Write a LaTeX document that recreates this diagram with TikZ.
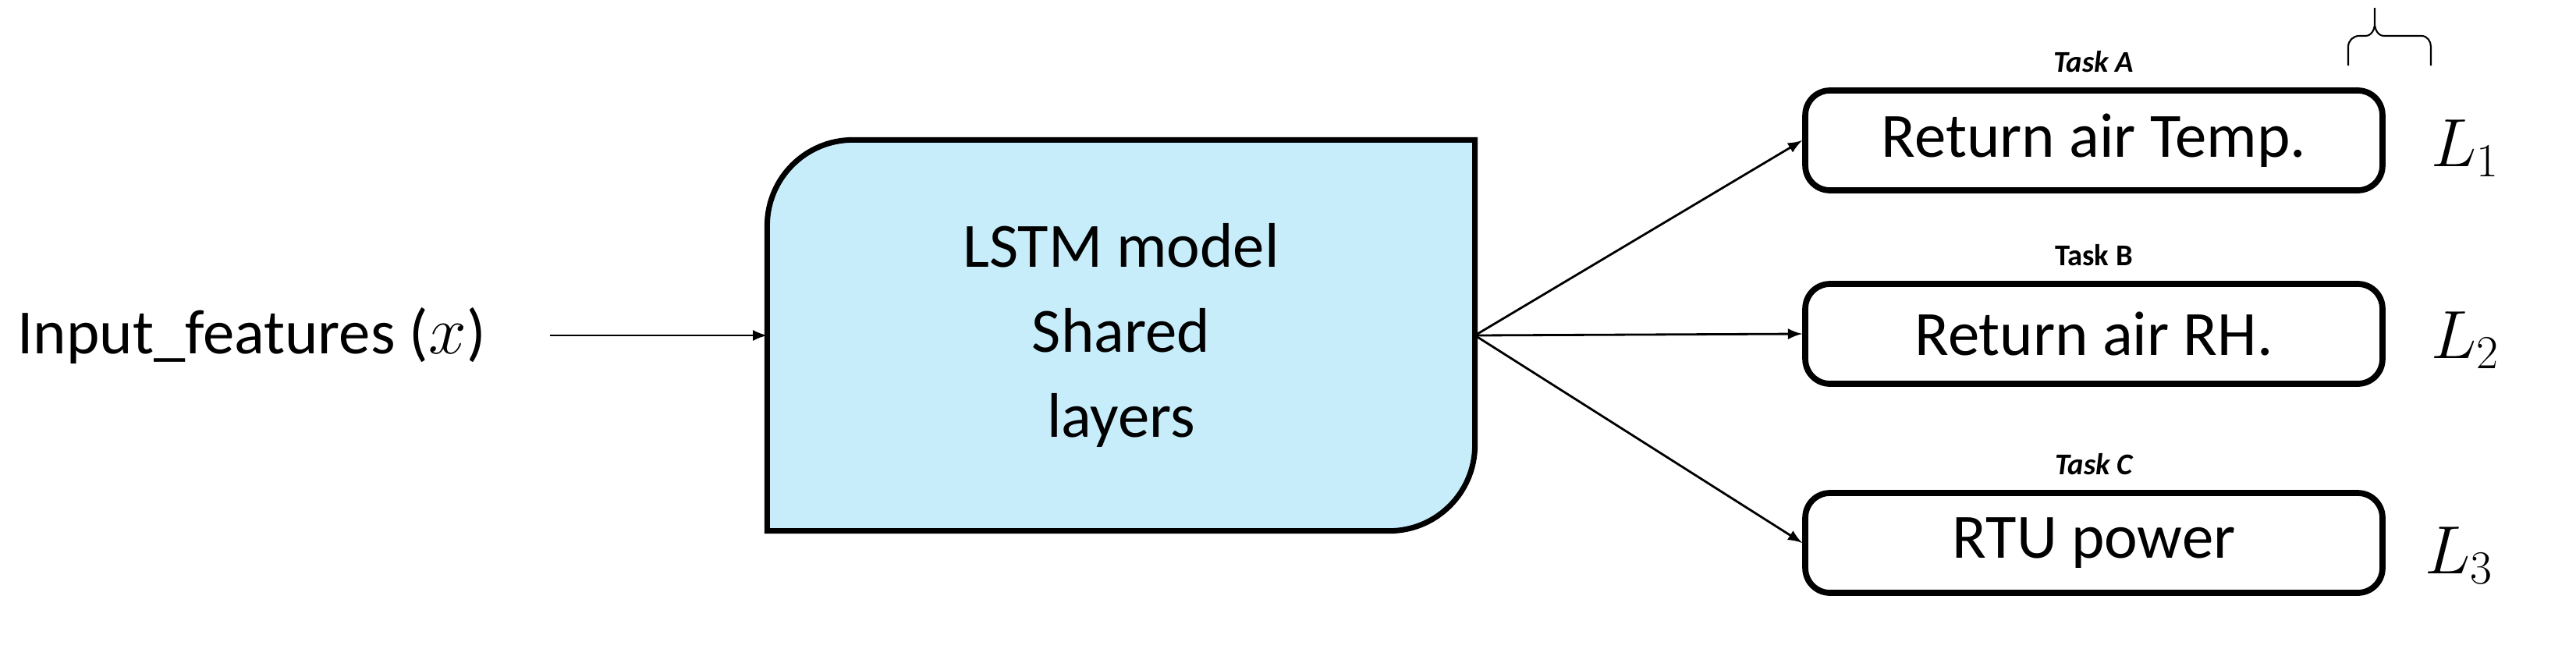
\documentclass[tikz,border=0pt]{standalone}
\usepackage{fontspec}
\setmainfont{Carlito}
\usetikzlibrary{positioning}
\begin{document}
\begin{tikzpicture}[x=0.02cm,y=-0.02cm,
  task/.style={draw,line width=2.2pt,rounded corners=9pt,minimum width=7.4cm,minimum height=1.28cm,font=\fontsize{23}{25}\selectfont,inner sep=0pt},
  tlab/.style={font=\fontsize{11}{12}\selectfont\bfseries\itshape},
  loss/.style={font=\fontsize{23}{25}\selectfont},
  arr/.style={-latex,line width=0.8pt}]
\useasboundingbox (0,0) rectangle (1651,420);
\node[minimum width=9.06cm,minimum height=5cm,inner sep=0pt] (lstm) at (718.5,215) {};
\draw[fill=cyan!22,line width=2pt]
  (lstm.south west) -- ([yshift=-1.1cm]lstm.north west) arc[start angle=180,end angle=90,radius=1.1cm] -- (lstm.north east)
  -- ([yshift=1.1cm]lstm.south east) arc[start angle=0,end angle=-90,radius=1.1cm] -- cycle;
\node[align=center,font=\fontsize{23}{31}\selectfont] at (lstm.center) {LSTM model\\Shared\\layers};
\node[font=\fontsize{23}{25}\selectfont,anchor=west] (in) at (5,215) {Input\_features ($x$)};
\draw[arr] ([xshift=20pt]in.east) -- (lstm.west);
\node[task] (a) at (1342,90) {Return air Temp.};
\node[task] (b) at (1342,214) {Return air RH.};
\node[task] (c) at (1342,348) {RTU power};
\node[tlab,above=2pt of a] {Task A};
\node[tlab,above=2pt of b,font=\fontsize{11}{12}\selectfont\bfseries] {Task B};
\node[tlab,above=2pt of c] {Task C};
\coordinate (o) at (lstm.east);
\draw[arr] (o) -- (a.west);
\draw[arr] (o) -- (b.west);
\draw[arr] (o) -- (c.west);
\node[loss] (l1) at (1580,95) {$L_1$};
\node[loss] (l2) at (1580,218) {$L_2$};
\node[loss] (l3) at (1576,356) {$L_3$};
\draw[line width=0.6pt] (1505,42) -- (1505,30) to[out=90,in=180] (1512,23) -- (1516,23) to[out=0,in=-90] (1522,15) -- (1522,5)
  (1522,15) to[out=-90,in=180] (1528,23) -- (1552,23) to[out=0,in=90] (1558,30) -- (1558,42);
\end{tikzpicture}
\end{document}
